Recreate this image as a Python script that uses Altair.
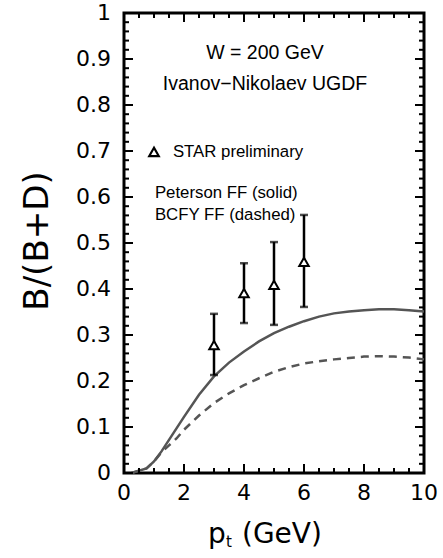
import altair as alt
import pandas as pd

# ---- data ----
pt_solid = [0.25, 0.75, 1.0, 1.25, 1.5, 1.75, 2.0, 2.5, 3.0, 3.5, 4.0, 4.5, 5.0,
            5.5, 6.0, 6.5, 7.0, 7.5, 8.0, 8.5, 9.0, 9.5, 10.0]
peterson = [0.0, 0.01, 0.025, 0.047, 0.072, 0.097, 0.122, 0.170, 0.210, 0.240,
            0.264, 0.286, 0.304, 0.318, 0.330, 0.340, 0.347, 0.351, 0.354, 0.356,
            0.356, 0.354, 0.351]
pt_dash = [0.25, 0.75, 1.0, 1.25, 1.5, 1.75, 2.0, 2.5, 3.0, 3.5, 4.0, 4.5, 5.0,
           5.5, 6.0, 6.5, 7.0, 7.5, 8.0, 8.5, 9.0, 9.5, 10.0]
bcfy = [0.0, 0.01, 0.025, 0.045, 0.060, 0.075, 0.094, 0.125, 0.152, 0.173,
        0.191, 0.206, 0.220, 0.230, 0.238, 0.243, 0.247, 0.250, 0.253, 0.254,
        0.253, 0.251, 0.247]

star_pt = [3, 4, 5, 6]
star_ratio = [0.278, 0.391, 0.409, 0.459]
star_low = [0.213, 0.326, 0.322, 0.361]
star_high = [0.346, 0.456, 0.502, 0.561]

x_major = [0, 2, 4, 6, 8, 10]
x_labels = ["0", "2", "4", "6", "8", "10"]
x_minor = [0.5, 1, 1.5, 2.5, 3, 3.5, 4.5, 5, 5.5, 6.5, 7, 7.5, 8.5, 9, 9.5]
y_major = [0, 0.1, 0.2, 0.3, 0.4, 0.5, 0.6, 0.7, 0.8, 0.9, 1.0]
y_labels = ["0", "0.1", "0.2", "0.3", "0.4", "0.5", "0.6", "0.7", "0.8", "0.9", "1"]
y_minor = [0.02, 0.04, 0.06, 0.08, 0.12, 0.14, 0.16, 0.18, 0.22, 0.24, 0.26, 0.28,
           0.32, 0.34, 0.36, 0.38, 0.42, 0.44, 0.46, 0.48, 0.52, 0.54, 0.56, 0.58,
           0.62, 0.64, 0.66, 0.68, 0.72, 0.74, 0.76, 0.78, 0.82, 0.84, 0.86, 0.88,
           0.92, 0.94, 0.96, 0.98]

x_title_main = ["p"]
x_title_sub = ["t"]
x_title_rest = ["(GeV)"]
y_title = ["B/(B+D)"]

head_text = ["W = 200 GeV", "Ivanov\u2212Nikolaev UGDF"]
head_x = [4.7, 4.7]
head_y = [0.9, 0.833]
leg_text = ["STAR preliminary", "Peterson FF (solid)", "BCFY FF (dashed)"]
leg_x = [1.63, 1.03, 1.03]
leg_y = [0.687, 0.598, 0.55]
leg_sym_x = [1.0]
leg_sym_y = [0.698]

# ---- tables ----
solid_df = pd.DataFrame({"pt": pt_solid, "ratio": peterson})
dash_df = pd.DataFrame({"pt": pt_dash, "ratio": bcfy})
star_df = pd.DataFrame({"pt": star_pt, "ratio": star_ratio,
                        "low": star_low, "high": star_high})
head_df = pd.DataFrame({"pt": head_x, "ratio": head_y, "t": head_text})
leg_df = pd.DataFrame({"pt": leg_x, "ratio": leg_y, "t": leg_text})
sym_df = pd.DataFrame({"pt": leg_sym_x, "ratio": leg_sym_y})
xmaj_df = pd.DataFrame({"tick": x_major})
xlab_df = pd.DataFrame({"pt": x_major, "t": x_labels})
xmin_df = pd.DataFrame({"tick": x_minor})
ymaj_df = pd.DataFrame({"tick": y_major})
ylab_df = pd.DataFrame({"ratio": y_major, "t": y_labels})
ymin_df = pd.DataFrame({"tick": y_minor})
xt1_df = pd.DataFrame({"t": x_title_main})
xt2_df = pd.DataFrame({"t": x_title_sub})
xt3_df = pd.DataFrame({"t": x_title_rest})
yt_df = pd.DataFrame({"t": y_title})

W, H = 300, 460
MAJ, MIN = 9, 5
xs = alt.Scale(domain=[0, 10], nice=False, zero=False)
ys = alt.Scale(domain=[0, 1], nice=False, zero=False)
LF = "DejaVu Sans"
TF = "Liberation Sans"

X = lambda f: alt.X(f, scale=xs, axis=None)
Y = lambda f: alt.Y(f, scale=ys, axis=None)

solid = alt.Chart(solid_df).mark_line(color="#555555", strokeWidth=2.5).encode(
    x=X("pt:Q"), y=Y("ratio:Q"))
dashed = alt.Chart(dash_df).mark_line(color="#555555", strokeWidth=2.5,
                                      strokeDash=[8, 6]).encode(
    x=X("pt:Q"), y=Y("ratio:Q"))

# inward ticks on all four edges (thin filled rects)
tick_layers = []
for df, L in ((xmaj_df, MAJ), (xmin_df, MIN)):
    tick_layers.append(alt.Chart(df).mark_rule(color="#000000", strokeWidth=2,
                                               opacity=1).encode(
        x=X("tick:Q"), y=alt.value(H), y2=alt.value(H - L)))
    tick_layers.append(alt.Chart(df).mark_rule(color="#000000", strokeWidth=2,
                                               opacity=1).encode(
        x=X("tick:Q"), y=alt.value(0), y2=alt.value(L)))
for df, L in ((ymaj_df, MAJ), (ymin_df, MIN)):
    tick_layers.append(alt.Chart(df).mark_rule(color="#000000", strokeWidth=2,
                                               opacity=1).encode(
        y=Y("tick:Q"), x=alt.value(0), x2=alt.value(L)))
    tick_layers.append(alt.Chart(df).mark_rule(color="#000000", strokeWidth=2,
                                               opacity=1).encode(
        y=Y("tick:Q"), x=alt.value(W), x2=alt.value(W - L)))

bars = alt.Chart(star_df).mark_rule(color="black", strokeWidth=2.5).encode(
    x=X("pt:Q"), y=Y("low:Q"), y2="high:Q")
cap_lo = alt.Chart(star_df).mark_tick(color="black", orient="horizontal",
                                      size=8, thickness=2.5).encode(
    x=X("pt:Q"), y=Y("low:Q"))
cap_hi = alt.Chart(star_df).mark_tick(color="black", orient="horizontal",
                                      size=8, thickness=2.5).encode(
    x=X("pt:Q"), y=Y("high:Q"))
pts = alt.Chart(star_df).mark_point(shape="triangle-up", size=90, filled=True,
                                    fill="white", stroke="black", strokeWidth=2,
                                    opacity=1).encode(
    x=X("pt:Q"), y=Y("ratio:Q"))
sym = alt.Chart(sym_df).mark_point(shape="triangle-up", size=90, filled=True,
                                   fill="white", stroke="black", strokeWidth=2.2,
                                   opacity=1).encode(
    x=X("pt:Q"), y=Y("ratio:Q"))
heads = alt.Chart(head_df).mark_text(font=TF, fontSize=19.5, align="center",
                                     baseline="alphabetic", color="black").encode(
    x=X("pt:Q"), y=Y("ratio:Q"), text="t:N")
legs = alt.Chart(leg_df).mark_text(font=TF, fontSize=16.8, align="left",
                                   baseline="alphabetic", color="black").encode(
    x=X("pt:Q"), y=Y("ratio:Q"), text="t:N")

# tick labels and axis titles
xlab = alt.Chart(xlab_df).mark_text(font=LF, fontSize=22, align="center",
                                    baseline="top", color="black").encode(
    x=X("pt:Q"), y=alt.value(H + 10), text="t:N")
ylab = alt.Chart(ylab_df).mark_text(font=LF, fontSize=22, align="right",
                                    baseline="middle", color="black").encode(
    y=Y("ratio:Q"), x=alt.value(-13), text="t:N")
xt1 = alt.Chart(xt1_df).mark_text(font=LF, fontSize=28, align="left",
                                  baseline="alphabetic", color="black").encode(
    x=alt.value(84), y=alt.value(H + 70), text="t:N")
xt2 = alt.Chart(xt2_df).mark_text(font=LF, fontSize=15, align="left",
                                  baseline="alphabetic", color="black").encode(
    x=alt.value(102), y=alt.value(H + 74), text="t:N")
xt3 = alt.Chart(xt3_df).mark_text(font=LF, fontSize=28, align="left",
                                  baseline="alphabetic", color="black").encode(
    x=alt.value(118), y=alt.value(H + 70), text="t:N")
ytitle = alt.Chart(yt_df).mark_text(font=LF, fontSize=34, align="center",
                                    baseline="alphabetic", angle=270,
                                    color="black").encode(
    x=alt.value(-76), y=alt.value(228), text="t:N")

chart = alt.layer(
    xlab, ylab, xt1, xt2, xt3, ytitle,
    solid, dashed, bars, cap_lo, cap_hi, pts, sym, heads, legs, *tick_layers
).properties(
    width=W, height=H,
    autosize=alt.AutoSizeParams(type="none"),
    padding={"left": 124, "top": 13, "right": 19, "bottom": 85},
    background="white",
).configure_view(stroke="black", strokeWidth=3)

chart.save("out.html", embed_options={"renderer": "svg", "actions": False})
